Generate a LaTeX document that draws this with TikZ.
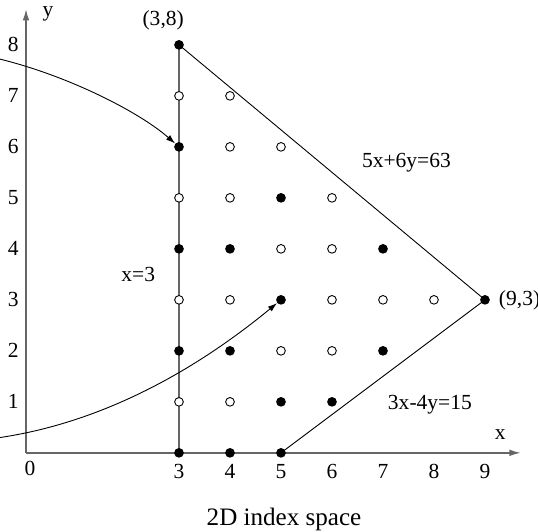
\documentclass[tikz,border=0pt]{standalone}
\usepackage{fontspec}
\setmainfont{Liberation Serif}
\usetikzlibrary{arrows.meta}
\tikzset{
  full/.style={circle,fill=black,inner sep=0pt,minimum size=0.19cm},
  hollow/.style={circle,draw=black,fill=white,inner sep=0pt,minimum size=0.17cm,line width=0.5pt},
  axis/.style={draw=gray!80!black,line width=0.8pt,-{Latex[length=2.2mm,width=1.3mm]}},
  edge/.style={draw=black,line width=0.5pt},
  flow/.style={draw=black,line width=0.5pt,-{Latex[length=1.8mm,width=1.2mm]}}
}
\begin{document}
\begin{tikzpicture}[font=\fontsize{12}{14}\selectfont]
  \useasboundingbox (-0.51,-1.55) rectangle (10.04,8.88);
  % Axes
  \coordinate (o) at (0,0);
  \coordinate (xend) at (9.7,0);
  \coordinate (yend) at (0,8.7);
  \draw[axis] (o) -- (xend);
  \draw[axis] (o) -- (yend);
  \node at (0.08,-0.3) {0};
  \node at (0.43,8.6) {y};
  \node at (9.3,0.35) {x};
  \foreach \i in {3,...,9} \node at (\i,-0.37) {\i};
  \foreach \j in {1,...,8} \node at (-0.25,\j) {\j};
  % Corners of the region
  \coordinate (a) at (3,0);
  \coordinate (b) at (3,8);
  \coordinate (c) at (9,3);
  \coordinate (d) at (5,0);
  \draw[draw=gray!80!black,line width=0.8pt] (a) -- (b);
  \draw[edge] (b) -- (c) -- (d);
  % Index points
  \foreach \x/\y in {3/7,4/7,4/6,5/6,3/5,4/5,6/5,5/4,6/4,3/3,4/3,6/3,7/3,8/3,5/2,6/2,3/1,4/1}
    \node[hollow] (p\x\y) at (\x,\y) {};
  \foreach \x/\y in {3/8,3/6,5/5,3/4,4/4,7/4,5/3,9/3,3/2,4/2,7/2,5/1,6/1,3/0,4/0,5/0}
    \node[full] (p\x\y) at (\x,\y) {};
  % Labels
  \node at (2.69,8.49) {(3,8)};
  \node[right] at (9.15,3) {(9,3)};
  \node at (7.46,5.69) {5x+6y=63};
  \node at (2.2,3.49) {x=3};
  \node at (7.92,0.94) {3x-4y=15};
  \node[font=\fontsize{14}{16}\selectfont] at (5.06,-1.3) {2D index space};
  % Curved arrows
  \coordinate (s1) at (-0.51,7.72);
  \coordinate (s2) at (-0.51,0.30);
  \draw[flow] (s1) .. controls (0.8,7.4) and (2.2,6.7) .. (p36);
  \draw[flow] (s2) .. controls (1.5,0.6) and (3.3,1.6) .. (p53);
\end{tikzpicture}
\end{document}
